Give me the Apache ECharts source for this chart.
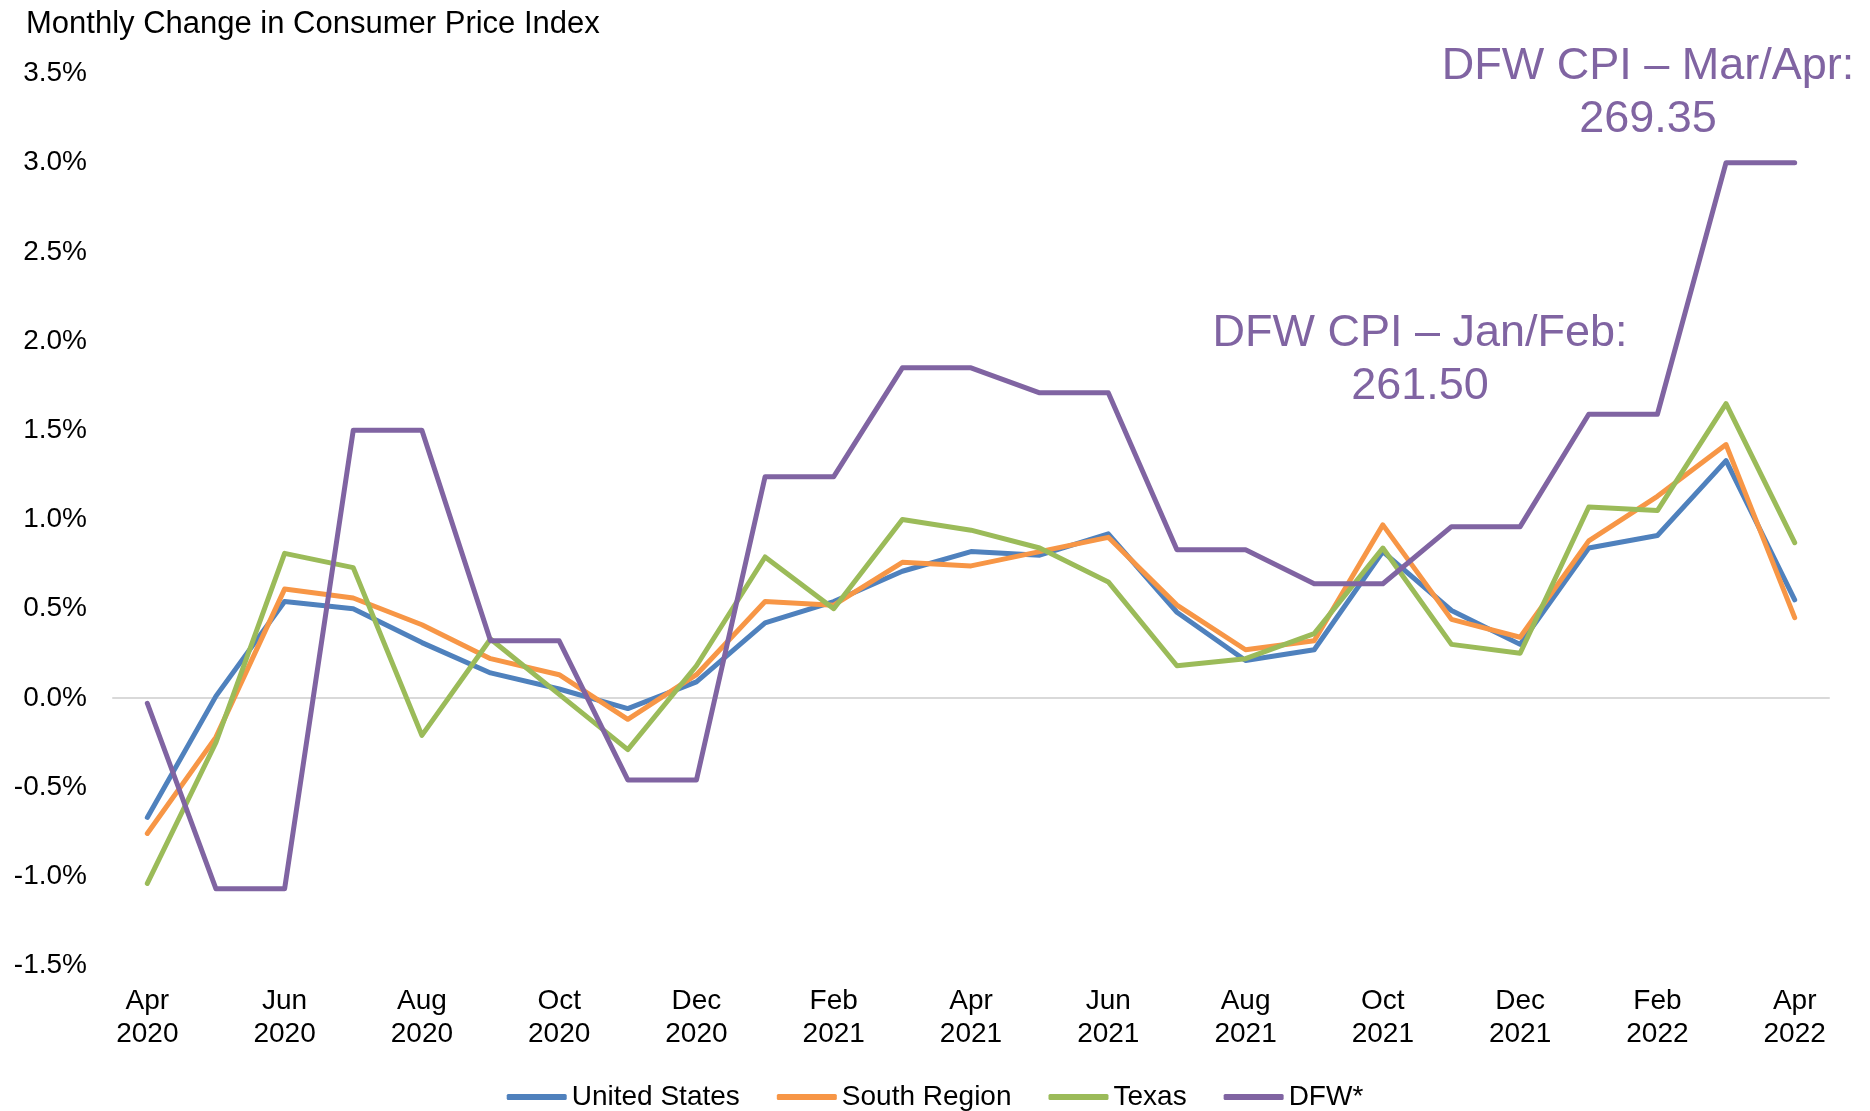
<!DOCTYPE html>
<html>
<head>
<meta charset="utf-8">
<script src="https://cdn.jsdelivr.net/npm/echarts@6/dist/echarts.min.js"></script>
<style>
html,body{margin:0;padding:0;background:#fff;}
#chart{width:1870px;height:1111px;}
</style>
</head>
<body>
<div id="chart"></div>
<script>
const categories = ["Apr\n2020","May\n2020","Jun\n2020","Jul\n2020","Aug\n2020","Sep\n2020","Oct\n2020","Nov\n2020","Dec\n2020",
  "Jan\n2021","Feb\n2021","Mar\n2021","Apr\n2021","May\n2021","Jun\n2021","Jul\n2021","Aug\n2021","Sep\n2021","Oct\n2021","Nov\n2021","Dec\n2021",
  "Jan\n2022","Feb\n2022","Mar\n2022","Apr\n2022"];
const unitedStates = [-0.67,0.01,0.54,0.50,0.31,0.14,0.05,-0.06,0.09,0.42,0.54,0.71,0.82,0.80,0.92,0.48,0.21,0.27,0.82,0.49,0.30,0.84,0.91,1.33,0.55];
const southRegion = [-0.76,-0.22,0.61,0.56,0.41,0.22,0.13,-0.12,0.13,0.54,0.52,0.76,0.74,0.82,0.90,0.52,0.27,0.32,0.97,0.44,0.34,0.88,1.13,1.42,0.45];
const texas = [-1.04,-0.25,0.81,0.73,-0.21,0.33,0.02,-0.29,0.18,0.79,0.50,1.00,0.94,0.84,0.65,0.18,0.22,0.36,0.84,0.30,0.25,1.07,1.05,1.65,0.87];
const dfw = [-0.03,-1.07,-1.07,1.50,1.50,0.32,0.32,-0.46,-0.46,1.24,1.24,1.85,1.85,1.71,1.71,0.83,0.83,0.64,0.64,0.96,0.96,1.59,1.59,3.00,3.00];
const seriesNames = ["United States","South Region","Texas","DFW*"];
const colors = ["#4F81BD","#F79646","#9BBB59","#8064A2"];
const titleText = "Monthly Change in Consumer Price Index";
const noteMarApr = "DFW CPI \u2013 Mar/Apr:\n269.35";
const noteJanFeb = "DFW CPI \u2013 Jan/Feb:\n261.50";

const FONT = '"Liberation Sans", Arial, sans-serif';
const chart = echarts.init(document.getElementById('chart'));
const values = [unitedStates, southRegion, texas, dfw];
chart.setOption({
  animation: false,
  backgroundColor: '#ffffff',
  textStyle: { fontFamily: FONT },
  title: {
    text: titleText, left: 21, top: 4,
    textStyle: { fontFamily: FONT, fontSize: 31, fontWeight: 'normal', color: '#000' }
  },
  legend: {
    data: seriesNames, top: 1078, left: 'center',
    icon: 'roundRect', itemWidth: 60, itemHeight: 6, itemGap: 37,
    textStyle: { fontFamily: FONT, fontSize: 28, color: '#000' }
  },
  grid: { left: 113, right: 41, top: 73.5, bottom: 145.5, containLabel: false },
  xAxis: {
    type: 'category', data: categories, boundaryGap: true,
    axisLine: { onZero: true, lineStyle: { color: '#D9D9D9', width: 2 } },
    axisTick: { show: false },
    axisLabel: {
      interval: 1, fontFamily: FONT, fontSize: 28, lineHeight: 33, color: '#000',
      margin: 19
    },
    splitLine: { show: false }
  },
  yAxis: {
    type: 'value', min: -1.5, max: 3.5, interval: 0.5,
    axisLine: { show: false }, axisTick: { show: false }, splitLine: { show: false },
    axisLabel: {
      fontFamily: FONT, fontSize: 28, color: '#000', margin: 26,
      formatter: v => v.toFixed(1) + '%'
    }
  },
  series: seriesNames.map((n, i) => ({
    name: n, type: 'line', data: values[i], color: colors[i],
    symbol: 'none', showSymbol: false,
    lineStyle: { width: 5, color: colors[i], cap: 'round', join: 'round' },
    z: 2 + i
  })),
  graphic: [
    { type: 'text', x: 1648, y: 40, style: { text: noteMarApr, fill: '#8064A2', font: '45px ' + FONT, align: 'center', verticalAlign: 'top', lineHeight: 53 } },
    { type: 'text', x: 1420, y: 307, style: { text: noteJanFeb, fill: '#8064A2', font: '45px ' + FONT, align: 'center', verticalAlign: 'top', lineHeight: 53 } }
  ]
});
</script>
</body>
</html>
